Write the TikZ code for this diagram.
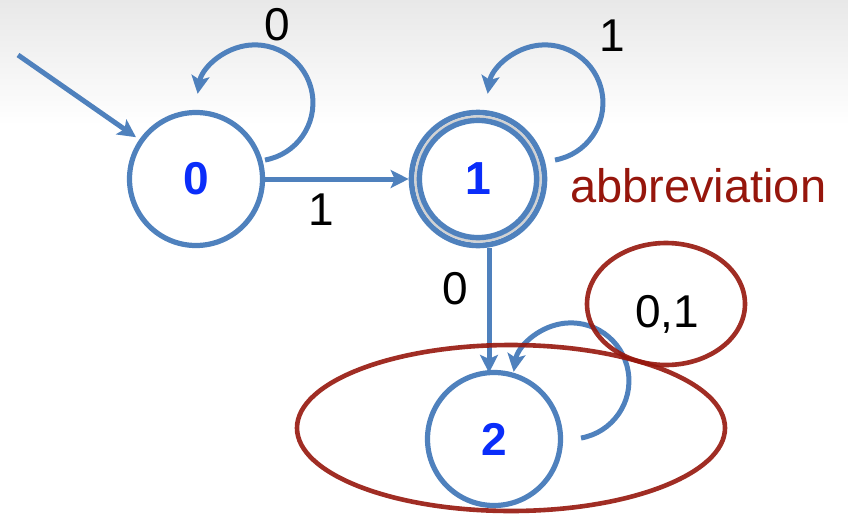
\documentclass[tikz,border=0pt]{standalone}
\usepackage{fontspec}
\setmainfont{Liberation Sans}
\usetikzlibrary{arrows.meta,calc}
\definecolor{edgeblue}{RGB}{79,129,189}
\definecolor{numblue}{RGB}{10,45,250}
\definecolor{markred}{RGB}{150,22,12}
\begin{document}
\begin{tikzpicture}[x=1pt,y=-1pt,
  state/.style={circle, draw=edgeblue, line width=5.2pt, minimum size=133pt, inner sep=0pt,
    fill=white, font=\fontsize{46}{50}\selectfont\bfseries, text=numblue},
  edge/.style={draw=edgeblue, line width=5pt, -{Stealth[length=18pt,width=18pt,inset=4pt]}},
  lbl/.style={font=\fontsize{46}{50}\selectfont, text=black, inner sep=0pt},
  redmark/.style={draw=markred, line width=4.6pt, opacity=0.9}]
\useasboundingbox (0,0) rectangle (848,517);
\shade[top color=black!9, bottom color=white, draw=none] (0,0) rectangle (848,125);
% states
\node[state] (s0) at (196,179) {0};
\node[state, line width=5.6pt] (s1) at (478,179) {1};
\draw[gray!35, line width=2.4pt] (s1.center) circle[radius=62.4pt];
\draw[edgeblue, line width=5.4pt] (s1.center) circle[radius=58.6pt];
\node[state, draw=none, fill=none] (s1t) at (478,179) {1};
\node[state] (s2) at (494,439) {2};
% initial arrow
\coordinate (init) at (18,55);
\draw[edge, shorten >=4pt] (init) -- (s0);
% transitions
\draw[edge] (s0.east) -- (s1.west);
\draw[edge] ([xshift=11pt]s1.south) -- ([xshift=-5pt,yshift=-3pt]s2.north);
% self loops
\draw[edge] ($(s0.center)+(69,-19)$) arc[start angle=-80, end angle=171, radius=58pt];
\draw[edge] ($(s1.center)+(77,-19)$) arc[start angle=-80, end angle=171, radius=58pt];
\draw[edge] ($(s2.center)+(87,-1)$) arc[start angle=-80, end angle=171, radius=58pt];
% labels
\node[lbl] (l00) at (277,25) {0};
\node[lbl] (l01) at (321,210) {1};
\node[lbl] (l11) at (612,36) {1};
\node[lbl] (l12) at (455,289) {0};
\node[lbl] (l22) at (667,314) {0,1};
% annotations
\node[anchor=base west, inner sep=0pt, font=\fontsize{47}{52}\selectfont, text=markred] (abbr) at (570,202) {abbreviation};
\draw[redmark] (511,428) ellipse[x radius=214pt, y radius=83pt];
\draw[redmark] (666,304) ellipse[x radius=79pt, y radius=61pt];
\end{tikzpicture}
\end{document}
